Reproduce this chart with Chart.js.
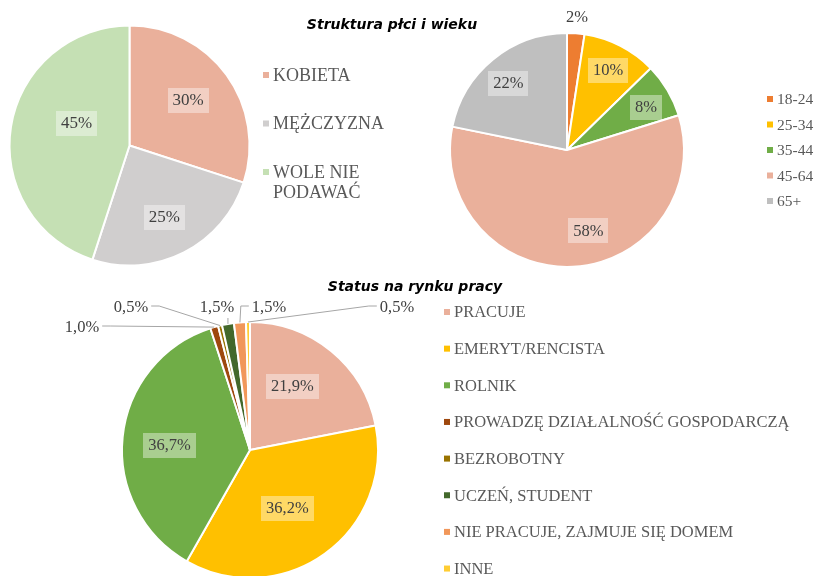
<!DOCTYPE html>
<html>
<head>
<meta charset="utf-8">
<script src="https://cdn.jsdelivr.net/npm/chart.js@4/dist/chart.umd.min.js"></script>
<style>
  html, body { margin: 0; padding: 0; background: #fff; overflow: hidden; }
  canvas { position: absolute; left: 0; top: 0; }
</style>
</head>
<body>
<canvas id="plec" width="817" height="576"></canvas>
<canvas id="wiek" width="817" height="576"></canvas>
<canvas id="status" width="817" height="576"></canvas>
<script>
// Struktura płci
const plecKategorie = ['KOBIETA', 'MĘŻCZYZNA', 'WOLE NIE PODAWAĆ'];
const plecProcent = [30, 25, 45];
const plecKolory = ['#EAB09B', '#D0CECE', '#C5E0B4'];

// Struktura wieku
const wiekKategorie = ['18-24', '25-34', '35-44', '45-64', '65+'];
const wiekProcent = [2.4, 10.3, 7.5, 58.0, 21.8];
const wiekKolory = ['#ED7D31', '#FFC000', '#70AD47', '#EAB09B', '#BFBFBF'];

// Status na rynku pracy
const statusKategorie = ['PRACUJE', 'EMERYT/RENCISTA', 'ROLNIK', 'PROWADZĘ DZIAŁALNOŚĆ GOSPODARCZĄ',
  'BEZROBOTNY', 'UCZEŃ, STUDENT', 'NIE PRACUJE, ZAJMUJE SIĘ DOMEM', 'INNE'];
const statusProcent = [21.9, 36.2, 36.7, 1.0, 0.5, 1.5, 1.5, 0.5];
const statusKolory = ['#EAB09B', '#FFC000', '#70AD47', '#9E480E', '#997300', '#43682B', '#F1975A', '#FFCD33'];

const SZARY = '#595959';
const CIEMNY = '#404040';

// etykiety danych, tytul i legenda rysowane na canvasie
const etykiety = {
  id: 'etykiety',
  afterDatasetsDraw(chart, args, o) {
    const ctx = chart.ctx;
    const meta = chart.getDatasetMeta(0);
    ctx.save();
    ctx.textAlign = 'center';
    ctx.textBaseline = 'middle';
    ctx.font = o.font;
    meta.data.forEach((arc, i) => {
      const p = arc.getProps(['x', 'y', 'startAngle', 'endAngle', 'outerRadius'], true);
      const mid = (p.startAngle + p.endAngle) / 2;
      const txt = o.teksty[i];
      const w = ctx.measureText(txt).width;
      const zew = o.zewnetrzne ? o.zewnetrzne[i] : undefined;
      if (Array.isArray(zew)) {
        // etykieta na zewnatrz z linia odniesienia
        const lx = p.x + zew[0], ly = p.y + zew[1];
        const ex = p.x + Math.cos(mid) * p.outerRadius;
        const ey = p.y + Math.sin(mid) * p.outerRadius;
        const lewo = lx - w / 2, prawo = lx + w / 2;
        ctx.strokeStyle = '#A6A6A6';
        ctx.lineWidth = 1;
        ctx.beginPath();
        if (ex >= lewo && ex <= prawo) {
          ctx.moveTo(ex, ly + 10);
          ctx.lineTo(ex, ey);
        } else {
          const s = ex < lewo ? lewo - 3 : prawo + 3;
          const kier = ex < s ? -1 : 1;
          const stub = s + kier * Math.min(8, Math.abs(s - ex));
          ctx.moveTo(s, ly - 2);
          ctx.lineTo(stub, ly - 2);
          ctx.lineTo(ex, ey);
        }
        ctx.stroke();
        ctx.fillStyle = CIEMNY;
        ctx.fillText(txt, lx, ly);
      } else if (typeof zew === 'number') {
        const lx = p.x + Math.cos(mid) * p.outerRadius * zew;
        const ly = p.y + Math.sin(mid) * p.outerRadius * zew;
        ctx.fillStyle = CIEMNY;
        ctx.fillText(txt, lx, ly);
      } else {
        const f = Array.isArray(o.promien) ? o.promien[i] : o.promien;
        const a = mid + (o.kat ? o.kat[i] : 0) * Math.PI / 180;
        const lx = p.x + Math.cos(a) * p.outerRadius * f;
        const ly = p.y + Math.sin(a) * p.outerRadius * f;
        ctx.fillStyle = 'rgba(255,255,255,0.4)';
        ctx.fillRect(Math.round(lx - w / 2 - 5), Math.round(ly - 12), Math.round(w + 10), 25);
        ctx.fillStyle = CIEMNY;
        ctx.fillText(txt, lx, ly + 1);
      }
    });

    if (o.tytul) {
      ctx.font = 'bold italic 14px "DejaVu Sans"';
      ctx.fillStyle = '#000';
      ctx.fillText(o.tytul.tekst, o.tytul.x, o.tytul.y);
    }

    // legenda
    const L = o.legenda;
    ctx.font = L.font;
    ctx.textAlign = 'left';
    L.pozycje.forEach((nazwa, i) => {
      const y = L.y + i * L.dy;
      ctx.fillStyle = chart.data.datasets[0].backgroundColor[i];
      ctx.fillRect(L.x, y - 3, 6, 6);
      ctx.fillStyle = SZARY;
      const linie = Array.isArray(nazwa) ? nazwa : [nazwa];
      linie.forEach((t, j) => ctx.fillText(t, L.x + 10, y + 1 + j * L.wiersz));
    });
    ctx.restore();
  }
};

function ramka(cx, cy) {
  return { left: cx - 50, right: 817 - cx - 50, top: cy - 50, bottom: 576 - cy - 50 };
}

function wykres(id, kategorie, wartosci, kolory, promien, cx, cy, opcje) {
  return new Chart(document.getElementById(id), {
    type: 'pie',
    data: {
      labels: kategorie,
      datasets: [{
        data: wartosci,
        backgroundColor: kolory,
        borderColor: '#fff',
        borderWidth: 2,
        clip: false
      }]
    },
    options: {
      responsive: false,
      animation: false,
      radius: promien,
      layout: { padding: ramka(cx, cy) },
      events: [],
      plugins: {
        legend: { display: false },
        tooltip: { enabled: false },
        etykiety: opcje
      }
    },
    plugins: [etykiety]
  });
}

const proc = v => Math.round(v) + '%';
const proc1 = v => v.toFixed(1).replace('.', ',') + '%';

wykres('plec', plecKategorie, plecProcent, plecKolory, 120, 129.5, 145.5, {
  font: '17px "Liberation Serif"',
  teksty: plecProcent.map(proc),
  promien: [0.62, 0.66, 0.48],
  kat: [-2, 1, 14],
  tytul: { tekst: 'Struktura płci i wieku', x: 392, y: 25 },
  legenda: {
    x: 263, y: 75, dy: 48.5, wiersz: 20, font: '18px "Liberation Serif"',
    pozycje: ['KOBIETA', 'MĘŻCZYZNA', ['WOLE NIE', 'PODAWAĆ']]
  }
});

wykres('wiek', wiekKategorie, wiekProcent, wiekKolory, 117, 567, 150, {
  font: '16.5px "Liberation Serif"',
  teksty: wiekProcent.map(proc),
  promien: [0.77, 0.77, 0.77, 0.71, 0.76],
  kat: [0, 0, 2, -12, -2],
  zewnetrzne: [1.13],
  legenda: {
    x: 767, y: 99, dy: 25.5, wiersz: 0, font: '15.5px "Liberation Serif"',
    pozycje: wiekKategorie
  }
});

wykres('status', statusKategorie, statusProcent, statusKolory, 128, 250, 450, {
  font: '16.5px "Liberation Serif"',
  teksty: statusProcent.map(proc1),
  promien: [0.6, 0.54, 0.63],
  kat: [-6, 3, -2],
  zewnetrzne: [null, null, null, [-168, -122], [-119, -142], [-33, -142], [19, -142], [147, -142]],
  tytul: { tekst: 'Status na rynku pracy', x: 415, y: 287 },
  legenda: {
    x: 444, y: 312, dy: 36.65, wiersz: 0, font: '16.5px "Liberation Serif"',
    pozycje: statusKategorie
  }
});
</script>
</body>
</html>
